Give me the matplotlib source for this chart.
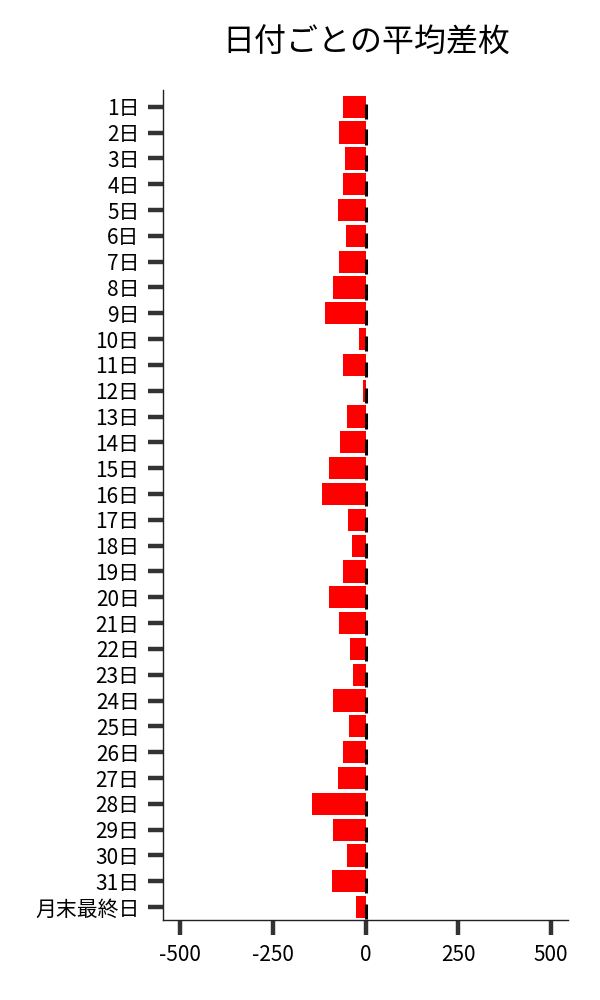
import matplotlib
matplotlib.use("Agg")
import matplotlib.pyplot as plt

plt.rcParams['font.family'] = ['Noto Sans CJK JP', 'DejaVu Sans']

days = [f"{i}日" for i in range(1, 32)] + ["月末最終日"]
avg_diff = [-62, -71, -57, -62, -76, -54, -73, -89, -111, -19,
            -60, -8, -51, -68, -100, -117, -49, -38, -62, -98,
            -71, -43, -35, -87, -46, -62, -76, -146, -89, -51,
            -92, -27]

fig = plt.figure(figsize=(6, 10), dpi=100)
ax = fig.add_axes([0.272, 0.08, 0.675, 0.83])

ypos = list(range(len(days)))
ax.barh(ypos, avg_diff, height=0.86, color="#ff0000")
# short black marks at zero for each row
ax.vlines([0] * len(ypos), [y - 0.12 for y in ypos], [y + 0.47 for y in ypos],
          color="black", linewidth=2.2)

ax.set_yticks(ypos)
ax.set_yticklabels(days, fontsize=15)
ax.set_ylim(31.5, -0.65)
ax.set_xlim(-546, 546)
ax.set_xticks([-500, -250, 0, 250, 500])
ax.set_xticklabels(["-500", "-250", "0", "250", "500"], fontsize=15)

ax.tick_params(axis="both", length=11, width=3.2, color="#333333")
ax.tick_params(axis="y", pad=6)
ax.tick_params(axis="x", pad=6)
for side in ["top", "right"]:
    ax.spines[side].set_visible(False)
for side in ["left", "bottom"]:
    ax.spines[side].set_linewidth(1.0)
    ax.spines[side].set_color("#222222")

fig.text(0.61, 0.957, "日付ごとの平均差枚", fontsize=23, ha="center", va="center")

fig.savefig("out.png", dpi=100)
